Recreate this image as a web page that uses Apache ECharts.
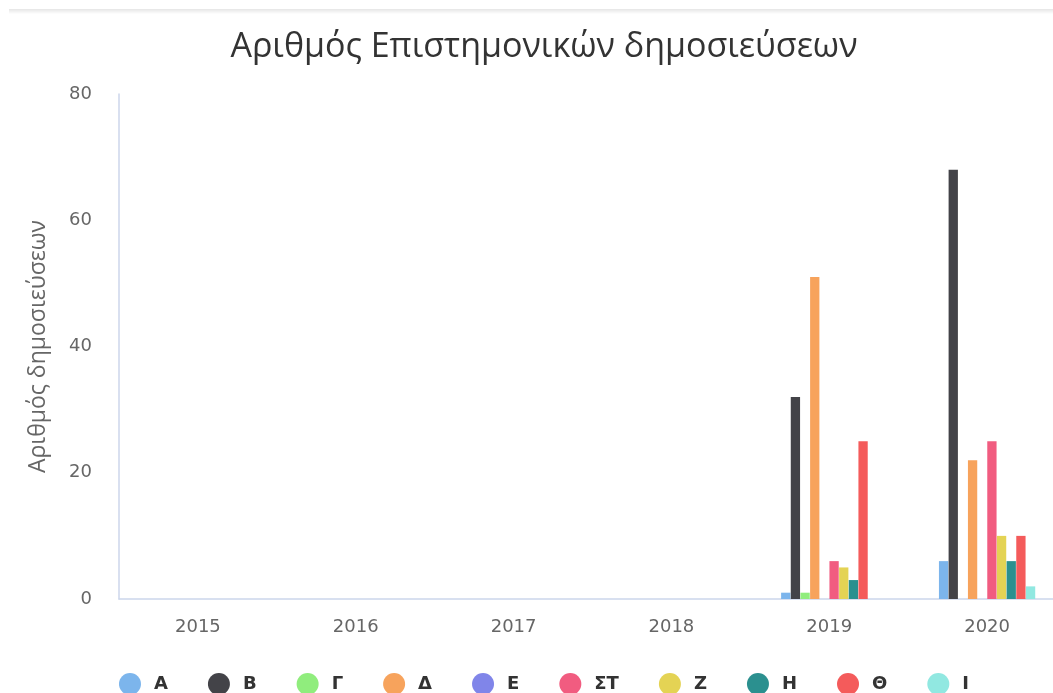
<!DOCTYPE html>
<html>
<head>
<meta charset="utf-8">
<script src="https://cdn.jsdelivr.net/npm/echarts@6/dist/echarts.min.js"></script>
<style>
  html, body { margin: 0; padding: 0; overflow: hidden; background: #fff; }
  #main { width: 1088px; height: 693px; }
</style>
</head>
<body>
<div id="main"></div>
<script>
var years = ['2015', '2016', '2017', '2018', '2019', '2020'];
var groups = ['Α', 'Β', 'Γ', 'Δ', 'Ε', 'ΣΤ', 'Ζ', 'Η', 'Θ', 'Ι'];
var colors = ['#7cb5ec', '#434348', '#90ed7d', '#f7a35c', '#8085e9', '#f15c80', '#e4d354', '#2b908f', '#f45b5b', '#91e8e1'];

// one array per group, values per year
var valA  = [0, 0, 0, 0, 1, 6];
var valB  = [0, 0, 0, 0, 32, 68];
var valG  = [0, 0, 0, 0, 1, 0];
var valD  = [0, 0, 0, 0, 51, 22];
var valE  = [0, 0, 0, 0, 0, 0];
var valST = [0, 0, 0, 0, 6, 25];
var valZ  = [0, 0, 0, 0, 5, 10];
var valH  = [0, 0, 0, 0, 3, 6];
var valTh = [0, 0, 0, 0, 25, 10];
var valI  = [0, 0, 0, 0, 0, 2];
var values = [valA, valB, valG, valD, valE, valST, valZ, valH, valTh, valI];

var myChart = echarts.init(document.getElementById('main'));

var series = groups.map(function (g, i) {
  return {
    name: g,
    type: 'bar',
    data: values[i],
    barGap: '4%',
    barCategoryGap: '39%',
    itemStyle: { color: colors[i] }
  };
});

var option = {
  color: colors,
  animation: false,
  title: {
    text: 'Αριθμός Επιστημονικών δημοσιεύσεων',
    left: 'center',
    top: 25,
    textStyle: { fontFamily: 'Open Sans', fontSize: 34, fontWeight: 'normal', color: '#333' }
  },
  graphic: [{
    type: 'rect',
    shape: { x: 9, y: 9, width: 1100, height: 5 },
    style: {
      fill: new echarts.graphic.LinearGradient(0, 0, 0, 1, [
        { offset: 0, color: 'rgba(0,0,0,0.10)' },
        { offset: 1, color: 'rgba(0,0,0,0)' }
      ])
    },
    silent: true
  }],
  legend: {
    data: groups,
    left: 'center',
    top: 668,
    icon: 'circle',
    itemWidth: 22,
    itemHeight: 22,
    itemGap: 40,
    textStyle: { fontFamily: 'DejaVu Sans', fontSize: 18, fontWeight: 'bold', color: '#333', padding: [0, 0, 0, 8] }
  },
  grid: { left: 119, right: 22, top: 94, bottom: 94, containLabel: false },
  xAxis: {
    type: 'category',
    data: years,
    axisLine: { lineStyle: { color: '#ccd6eb', width: 1.5 } },
    axisTick: { show: false },
    axisLabel: { margin: 19, fontFamily: 'DejaVu Sans', fontSize: 18, color: '#666' }
  },
  yAxis: {
    type: 'value',
    min: 0,
    max: 80,
    interval: 20,
    name: 'Αριθμός δημοσιεύσεων',
    nameLocation: 'middle',
    nameGap: 69,
    nameTextStyle: { fontFamily: 'Open Sans', fontSize: 23, color: '#666' },
    axisLine: { show: true, lineStyle: { color: '#ccd6eb', width: 1.5 } },
    axisTick: { show: false },
    splitLine: { show: false },
    axisLabel: { margin: 27, fontFamily: 'DejaVu Sans', fontSize: 18, color: '#666' }
  },
  series: series
};

myChart.setOption(option);
</script>
</body>
</html>
